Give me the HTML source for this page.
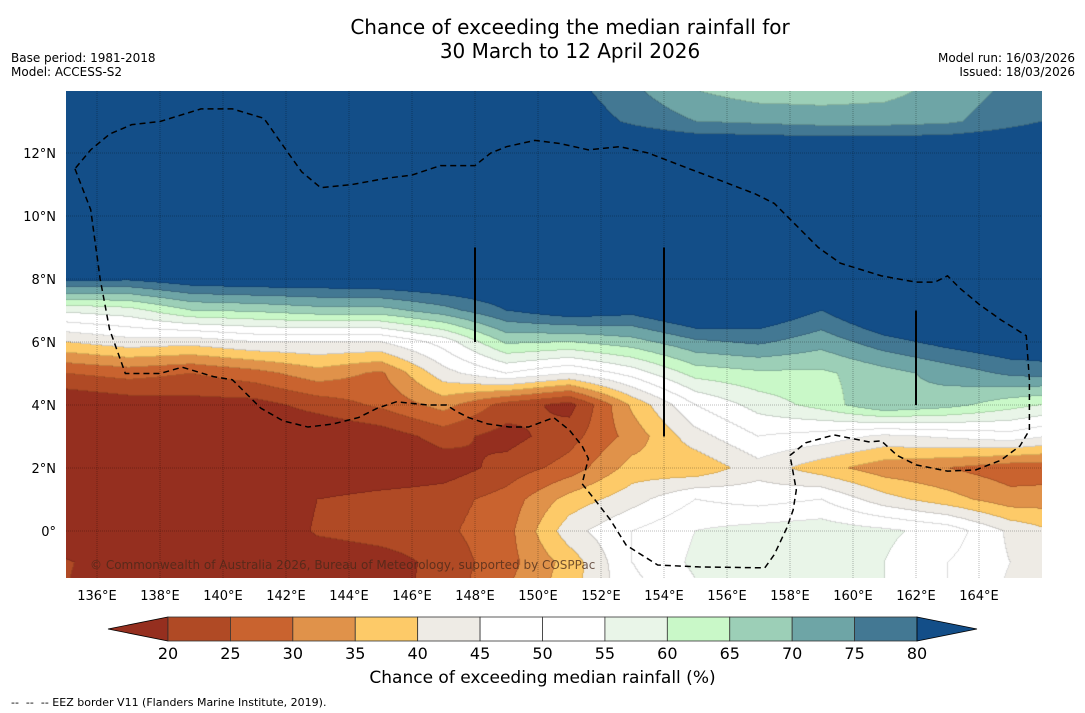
<!DOCTYPE html>
<html><head><meta charset="utf-8">
<style>
body{margin:0;background:#fff;width:1085px;height:713px;position:relative;overflow:hidden;font-family:"DejaVu Sans","Liberation Sans",sans-serif;color:#000}
.t{position:absolute;white-space:nowrap}
</style></head><body>
<div class="t" style="left:0;width:1140px;text-align:center;top:15px;font-size:20px;line-height:24px">Chance of exceeding the median rainfall for<br>30 March to 12 April 2026</div>
<div class="t" style="left:11px;top:51px;font-size:12px;line-height:14px">Base period: 1981-2018<br>Model: ACCESS-S2</div>
<div class="t" style="right:10px;top:51px;font-size:12px;line-height:14px;text-align:right">Model run: 16/03/2026<br>Issued: 18/03/2026</div>
<canvas id="map" width="976" height="487" style="position:absolute;left:66px;top:91px"></canvas>
<svg id="ov" width="1085" height="713" style="position:absolute;left:0;top:0"></svg>
<div class="t" style="left:90px;top:558px;font-size:12px;color:rgba(70,40,25,0.75)">© Commonwealth of Australia 2026, Bureau of Meteorology, supported by COSPPac</div>
<div class="t" style="left:0;width:1085px;text-align:center;top:668px;font-size:17px">Chance of exceeding median rainfall (%)</div>
<div class="t" style="left:11px;top:696px;font-size:11px">--&nbsp; --&nbsp; -- EEZ border V11 (Flanders Marine Institute, 2019).</div>
<script>
const lons=[135,137,139,141,143,145,147,149,151,153,155,157,159,161,163,165,167];
const lats=[14,13,12,11,10,9,8,7,6,5,4,3,2,1,0,-1,-2];
const r14=[88,88,88,88,88,88,88,86,82,76,70,67,67,68,72,76,80];
const r13=[88,88,88,88,88,88,88,88,84,79,75,74,73,73,74,78,82];
const r12=[88,88,88,88,88,88,88,88,88,88,88,88,88,88,88,88,88];
const r11=[90,90,90,90,90,90,90,90,90,90,90,90,90,90,90,90,90];
const r10=[90,90,90,90,90,90,90,90,90,90,90,90,90,90,90,90,90];
const r9=[90,90,90,90,90,90,90,90,90,90,90,90,90,90,90,90,90];
const r8=[82,81,84,85,85,86,87,87,88,89,90,90,90,90,90,90,90];
const r7=[56,58,65,66,68,68,73,80,84,82,88,86,80,88,90,90,90];
const r6=[40,43,42,45,45,45,52,66,65,68,74,76,72,78,82,85,85];
const r5=[25,27,25,28,33,29,43,50,45,52,62,64,64,68,72,76,78];
const r4=[15,17,18,18,22,26,32,23,18,36,50,57,62,70,67,62,58];
const r3=[12,14,15,15,15,17,22,18,23,32,43,50,48,44,46,48,43];
const r2=[12,12,12,13,14,15,17,22,27,37,36,43,37,32,30,27,27];
const r1=[12,12,12,12,20,22,23,27,37,43,50,48,50,42,37,32,33];
const r0=[12,12,12,12,21,23,24,28,43,50,55,57,58,56,53,44,38];
const rm1=[21,14,13,13,15,17,22,28,37,50,56,57,58,55,50,45,40];
const rm2=[20,14,13,13,14,18,22,30,38,48,54,57,58,55,50,44,38];
const grid=[r14,r13,r12,r11,r10,r9,r8,r7,r6,r5,r4,r3,r2,r1,r0,rm1,rm2];
const levels=[20,25,30,35,40,45,50,55,60,65,70,75,80];
const colors=["#952f1f","#b04a25","#c9632f","#e0924a","#fdca68","#eeebe5","#ffffff","#ffffff","#e9f5e8","#c9f8c8","#9ccfb7","#6ea5a6","#437893","#134e88"];
const lonTicks=[136,138,140,142,144,146,148,150,152,154,156,158,160,162,164];
const latTicks=[12,10,8,6,4,2,0];
const eez=[[135.3,11.5],[135.8,10.2],[136.1,8.0],[136.4,6.4],[136.9,5.0],[138.0,5.0],[138.7,5.2],[139.7,4.9],[140.3,4.8],[140.8,4.3],[141.2,3.9],[141.9,3.5],[142.7,3.3],[143.5,3.4],[144.3,3.6],[144.9,3.9],[145.5,4.1],[146.5,4.0],[147.1,4.0],[147.4,3.8],[147.8,3.6],[148.4,3.4],[149.1,3.3],[149.7,3.3],[150.5,3.6],[151.0,3.2],[151.4,2.7],[151.6,2.3],[151.4,1.5],[151.8,1.0],[152.3,0.35],[152.8,-0.45],[153.8,-1.08],[155.1,-1.14],[157.2,-1.17],[157.5,-0.75],[157.9,0.1],[158.1,0.67],[158.2,1.3],[158.0,2.4],[158.5,2.8],[159.4,3.05],[160.5,2.83],[160.9,2.86],[161.4,2.4],[162.0,2.1],[163.0,1.9],[163.9,1.94],[164.7,2.25],[165.3,2.7],[165.6,3.2],[165.6,4.8],[165.5,6.2],[164.7,6.7],[164.0,7.2],[163.4,7.7],[163.0,8.1],[162.6,7.9],[162.0,7.9],[160.9,8.1],[159.6,8.5],[158.9,9.0],[157.5,10.4],[156.9,10.7],[155.6,11.2],[154.8,11.5],[153.5,12.0],[152.6,12.2],[151.6,12.1],[150.7,12.3],[149.9,12.4],[149.0,12.2],[148.5,12.0],[148.0,11.6],[147.9,11.6],[146.9,11.6],[146.0,11.3],[145.2,11.2],[144.1,11.0],[143.1,10.9],[142.5,11.4],[142.0,12.1],[141.3,13.1],[140.3,13.4],[139.3,13.4],[138.0,13.0],[137.1,12.9],[136.4,12.6],[135.8,12.1],[135.3,11.5]];
const vlines=[[148,9,6],[154,9,3],[162,7,4]];
const cbTicks=[20,25,30,35,40,45,50,55,60,65,70,75,80];

const X=lon=>97+(lon-136)*31.5, Y=lat=>531-lat*31.5;
function val(lon,lat){
  let fi=(lon-lons[0])/2, fj=(lats[0]-lat)/1;
  fi=Math.max(0,Math.min(lons.length-1.0001,fi)); fj=Math.max(0,Math.min(lats.length-1.0001,fj));
  const i=Math.floor(fi),j=Math.floor(fj),a=fi-i,b=fj-j;
  return grid[j][i]*(1-a)*(1-b)+grid[j][i+1]*a*(1-b)+grid[j+1][i]*(1-a)*b+grid[j+1][i+1]*a*b;
}
function band(v){let k=0;while(k<levels.length&&v>=levels[k])k++;return k;}
const cv=document.getElementById('map'),ctx=cv.getContext('2d');
const W=cv.width,H=cv.height,img=ctx.createImageData(W,H);
const B=new Int8Array(W*H);
for(let py=0;py<H;py++)for(let px=0;px<W;px++){
  const lon=136+(px+66.5-97)/31.5, lat=(531-(py+91.5))/31.5;
  B[py*W+px]=band(val(lon,lat));
}
const hex=c=>[parseInt(c.substr(1,2),16),parseInt(c.substr(3,2),16),parseInt(c.substr(5,2),16)];
const rgb=colors.map(hex);
for(let py=0;py<H;py++)for(let px=0;px<W;px++){
  const k=B[py*W+px];let c=rgb[k];
  const edge=(px<W-1&&B[py*W+px+1]!==k)||(py<H-1&&B[(py+1)*W+px]!==k);
  const o=(py*W+px)*4;
  const f=edge?0.86:1;
  img.data[o]=c[0]*f;img.data[o+1]=c[1]*f;img.data[o+2]=c[2]*f;img.data[o+3]=255;
}
ctx.putImageData(img,0,0);

const NS='http://www.w3.org/2000/svg',ov=document.getElementById('ov');
function mk(tag,attrs){const e=document.createElementNS(NS,tag);for(const k in attrs)e.setAttribute(k,attrs[k]);ov.appendChild(e);return e;}
lonTicks.forEach(l=>{
  const g=mk('line',{x1:X(l),x2:X(l),y1:91,y2:578,stroke:'rgba(0,0,0,0.35)','stroke-width':0.8,'stroke-dasharray':'1,1'});
  
  
  const t=mk('text',{x:X(l),y:600,'font-size':13,'text-anchor':'middle','font-family':'DejaVu Sans, sans-serif'});
  t.textContent=l+'°E';
  
  
});
latTicks.forEach(l=>{
  const g=mk('line',{x1:66,x2:1042,y1:Y(l),y2:Y(l),stroke:'rgba(0,0,0,0.35)','stroke-width':0.8,'stroke-dasharray':'1,1'});
  
  
  const t=mk('text',{x:56,y:Y(l)+5,'font-size':13,'text-anchor':'end','font-family':'DejaVu Sans, sans-serif'});
  t.textContent=l===0?'0°':l+'°N';
  
  
});
const ez=mk('polyline',{points:eez.map(p=>X(p[0])+','+Y(p[1])).join(' '),fill:'none',stroke:'#000','stroke-width':1.5,'stroke-dasharray':'6,4'});


vlines.forEach(v=>{
  const l=mk('line',{x1:X(v[0]),x2:X(v[0]),y1:Y(v[1]),y2:Y(v[2]),stroke:'#000','stroke-width':2});
  
  
});
const cx=v=>168+(v-20)*(917-168)/60, cy0=617, cy1=641;
const lt=mk('polygon',{points:`108,629 ${cx(20)},${cy0} ${cx(20)},${cy1}`,fill:colors[0],stroke:'#000','stroke-width':0.8});


for(let k=0;k<levels.length-1;k++){
  const r=mk('rect',{x:cx(levels[k]),y:cy0,width:cx(levels[k+1])-cx(levels[k]),height:cy1-cy0,fill:colors[k+1],stroke:'#333','stroke-width':0.8});
  
  
}
const rt=mk('polygon',{points:`${cx(80)},${cy0} 977,629 ${cx(80)},${cy1}`,fill:colors[13],stroke:'#000','stroke-width':0.8});


cbTicks.forEach(v=>{
  const t=mk('text',{x:cx(v),y:659,'font-size':16,'text-anchor':'middle','font-family':'DejaVu Sans, sans-serif'});
  t.textContent=v;
  
  
});
</script>
</body></html>
